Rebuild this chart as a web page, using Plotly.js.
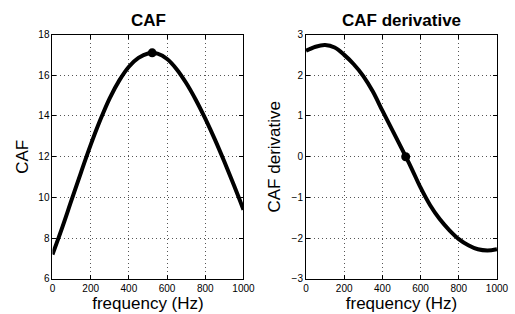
<!DOCTYPE html>
<html><head><meta charset="utf-8">
<script src="https://cdn.plot.ly/plotly-3.0.1.min.js"></script>
<style>html,body{margin:0;padding:0;background:#fff}</style>
</head><body><div id="plot" style="width:515px;height:314px"></div>
<script>
const freq = [0,50,100,150,200,250,300,350,400,450,500,550,600,650,700,750,800,850,900,950,1000];
const caf  = [7.2,8.5,9.88,11.25,12.58,13.8,14.88,15.75,16.42,16.85,17.07,17.06,16.8,16.3,15.62,14.8,13.87,12.85,11.75,10.6,9.4];
const cafDeriv = [2.60,2.70,2.74,2.68,2.50,2.27,1.98,1.60,1.13,0.67,0.21,-0.26,-0.76,-1.19,-1.53,-1.80,-2.02,-2.17,-2.27,-2.30,-2.27];
const peakFreq = [522];
const peakCaf = [17.1];
const zeroDeriv = [0];
const xTicks = [0,200,400,600,800,1000];

const F = 'Liberation Sans, Arial, sans-serif';
const axBase = {
  showline:true, linecolor:'#000', linewidth:1, mirror:'ticks',
  ticks:'inside', ticklen:4, tickcolor:'#000',
  showgrid:true, gridcolor:'#555', griddash:'1px,3px', gridwidth:1,
  zeroline:false, tickfont:{family:F,size:10,color:'#000'}
};
const traces = [
  {x:freq, y:caf, type:'scatter', mode:'lines', line:{color:'#000', width:4, shape:'spline', smoothing:1}, xaxis:'x', yaxis:'y'},
  {x:peakFreq, y:peakCaf, type:'scatter', mode:'markers', marker:{color:'#000', size:9}, xaxis:'x', yaxis:'y'},
  {x:freq, y:cafDeriv, type:'scatter', mode:'lines', line:{color:'#000', width:4, shape:'spline', smoothing:1}, xaxis:'x2', yaxis:'y2'},
  {x:peakFreq, y:zeroDeriv, type:'scatter', mode:'markers', marker:{color:'#000', size:9}, xaxis:'x2', yaxis:'y2'}
];
const layout = {
  width:515, height:314, showlegend:false,
  margin:{l:0,r:0,t:0,b:0}, paper_bgcolor:'#fff', plot_bgcolor:'#fff',
  xaxis: Object.assign({}, axBase, {domain:[0.1019,0.4728], range:[0,1000], tickvals:xTicks, anchor:'y',
    title:{text:'frequency (Hz)', font:{family:F,size:17,color:'#000'}, standoff:4}}),
  yaxis: Object.assign({}, axBase, {domain:[0.1115,0.8901], range:[6,18], dtick:2, anchor:'x',
    title:{text:'CAF', font:{family:F,size:17,color:'#000'}, standoff:5}}),
  xaxis2: Object.assign({}, axBase, {domain:[0.5942,0.9650], range:[0,1000], tickvals:xTicks, anchor:'y2',
    title:{text:'frequency (Hz)', font:{family:F,size:17,color:'#000'}, standoff:4}}),
  yaxis2: Object.assign({}, axBase, {domain:[0.1115,0.8901], range:[-3,3], dtick:1, anchor:'x2',
    title:{text:'CAF derivative', font:{family:F,size:17,color:'#000'}, standoff:6}}),
  annotations:[
    {text:'<b>CAF</b>', xref:'paper', yref:'paper', x:0.2874, y:0.936, xanchor:'center', yanchor:'middle', showarrow:false, font:{family:F,size:17,color:'#000'}},
    {text:'<b>CAF derivative</b>', xref:'paper', yref:'paper', x:0.7796, y:0.936, xanchor:'center', yanchor:'middle', showarrow:false, font:{family:F,size:17,color:'#000'}}
  ]
};
Plotly.newPlot('plot', traces, layout, {staticPlot:true, displayModeBar:false});
</script></body></html>
